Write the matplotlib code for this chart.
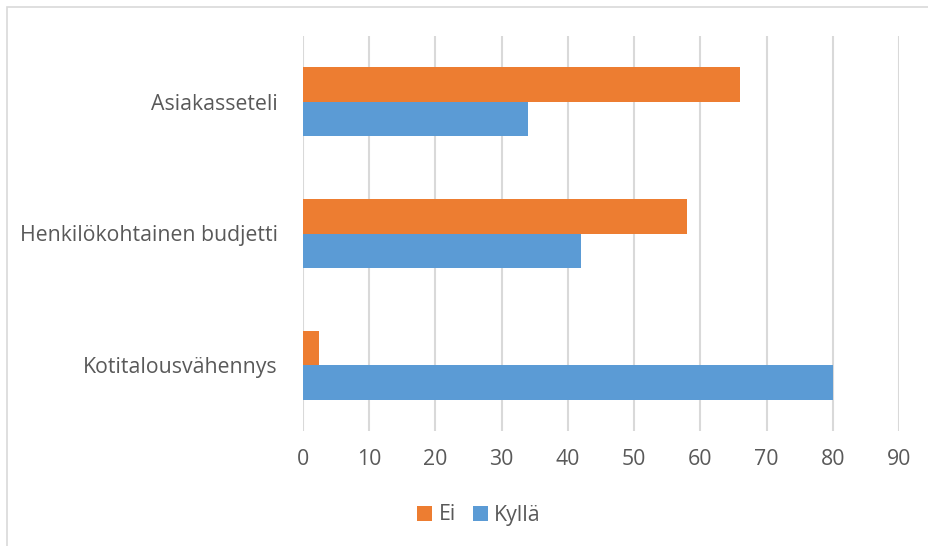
import matplotlib
matplotlib.use("Agg")
import matplotlib.pyplot as plt
from matplotlib.patches import Rectangle
import numpy as np

categories = ["Kotitalousvähennys", "Henkilökohtainen budjetti", "Asiakasseteli"]
ei = [2.4, 58, 66]
kylla = [80, 42, 34]
xticks = list(range(0, 100, 10))

plt.rcParams["font.family"] = ["Open Sans", "DejaVu Sans"]
text_color = "#595959"
grid_color = "#D9D9D9"
orange = "#ED7D31"
blue = "#5B9BD5"

fig = plt.figure(figsize=(9.29, 5.46), dpi=100)
ax = fig.add_axes([303 / 929, 1 - 431 / 546, (899 - 303) / 929, (431 - 36) / 546])

y = np.arange(len(categories))
h = 0.262
ax.barh(y + h / 2, ei, height=h, color=orange, label="Ei", zorder=3)
ax.barh(y - h / 2, kylla, height=h, color=blue, label="Kyllä", zorder=3)

ax.set_xlim(0, 90)
ax.set_ylim(-0.5, len(categories) - 0.5)
ax.set_xticks(xticks)
ax.set_yticks(y)
ax.set_yticklabels(categories)
ax.xaxis.grid(True, color=grid_color, linewidth=1.5, zorder=0)
ax.tick_params(axis="both", length=0, labelsize=15.3, colors=text_color)
ax.tick_params(axis="x", pad=13)
ax.tick_params(axis="y", pad=18)
for s in ax.spines.values():
    s.set_visible(False)

handles, labels = ax.get_legend_handles_labels()
fig.legend(handles, labels, loc="center", bbox_to_anchor=(479 / 929, 1 - 515 / 546),
           ncol=2, frameon=False, fontsize=15.3, labelcolor=text_color,
           handlelength=0.7, handleheight=0.7, handletextpad=0.3, columnspacing=0.8)

fig.patches.append(Rectangle((7 / 929, -0.01), 1.0, 1 - 7 / 546 + 0.01, transform=fig.transFigure,
                             fill=False, edgecolor=grid_color, linewidth=1.2))

fig.savefig("out.png", dpi=100)
